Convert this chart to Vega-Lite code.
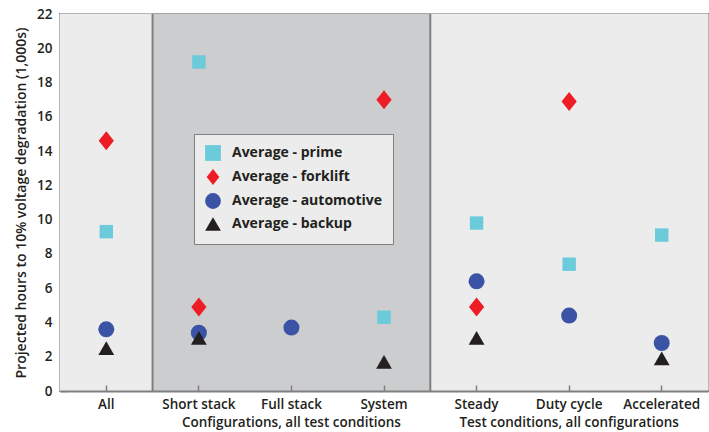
{
  "$schema": "https://vega.github.io/schema/vega-lite/v6.json",
  "width": 648,
  "height": 377,
  "autosize": "none",
  "padding": {"left": 60, "top": 14, "right": 1, "bottom": 41},
  "background": "white",
  "config": {
    "font": "Open Sans",
    "view": {"stroke": "#7f7f7f", "strokeWidth": 2},
    "axis": {
      "labelFont": "Open Sans", "labelFontWeight": 600, "labelFontSize": 13.5, "labelColor": "#231f20",
      "titleFont": "Open Sans", "titleFontWeight": 600, "titleFontSize": 14, "titleColor": "#231f20",
      "domainColor": "#7f7f7f", "domainWidth": 2, "tickColor": "#7f7f7f", "tickWidth": 1.5, "grid": false
    },
    "legend": {
      "title": null, "orient": "none", "legendX": 134, "legendY": 120,
      "fillColor": "#ebeceb", "strokeColor": "#7f7f7f", "padding": 10,
      "labelFont": "Open Sans", "labelFontWeight": 700, "labelFontSize": 14, "labelColor": "#231f20",
      "rowPadding": 2, "labelOffset": 10, "symbolOpacity": 1, "symbolSize": 250
    }
  },
  "datasets": {
    "bg": [
      {"cat": "All", "zone": "overall"},
      {"cat": "Short stack", "zone": "config"},
      {"cat": "Full stack", "zone": "config"},
      {"cat": "System", "zone": "config"},
      {"cat": "Steady", "zone": "test"},
      {"cat": "Duty cycle", "zone": "test"},
      {"cat": "Accelerated", "zone": "test"}
    ],
    "pts": [
      {"cat": "All", "series": "Average - prime", "value": 9.3},
      {"cat": "All", "series": "Average - forklift", "value": 14.6},
      {"cat": "All", "series": "Average - automotive", "value": 3.6},
      {"cat": "All", "series": "Average - backup", "value": 2.5},
      {"cat": "Short stack", "series": "Average - prime", "value": 19.2},
      {"cat": "Short stack", "series": "Average - forklift", "value": 4.9},
      {"cat": "Short stack", "series": "Average - automotive", "value": 3.4},
      {"cat": "Short stack", "series": "Average - backup", "value": 3.1},
      {"cat": "Full stack", "series": "Average - automotive", "value": 3.7},
      {"cat": "System", "series": "Average - prime", "value": 4.3},
      {"cat": "System", "series": "Average - forklift", "value": 17.0},
      {"cat": "System", "series": "Average - backup", "value": 1.7},
      {"cat": "Steady", "series": "Average - prime", "value": 9.8},
      {"cat": "Steady", "series": "Average - forklift", "value": 4.9},
      {"cat": "Steady", "series": "Average - automotive", "value": 6.4},
      {"cat": "Steady", "series": "Average - backup", "value": 3.1},
      {"cat": "Duty cycle", "series": "Average - prime", "value": 7.4},
      {"cat": "Duty cycle", "series": "Average - forklift", "value": 16.9},
      {"cat": "Duty cycle", "series": "Average - automotive", "value": 4.4},
      {"cat": "Accelerated", "series": "Average - prime", "value": 9.1},
      {"cat": "Accelerated", "series": "Average - automotive", "value": 2.8},
      {"cat": "Accelerated", "series": "Average - backup", "value": 1.9}
    ]
  },
  "layer": [
    {
      "data": {"name": "bg"},
      "mark": {"type": "rect", "strokeWidth": 1},
      "encoding": {
        "x": {
          "field": "cat", "type": "nominal",
          "sort": ["All", "Short stack", "Full stack", "System", "Steady", "Duty cycle", "Accelerated"],
          "scale": {"paddingInner": 0, "paddingOuter": 0},
          "axis": {
            "title": null, "labelAngle": 0, "tickSize": -6, "labelPadding": 12,
            "labelOverlap": false, "labelLimit": 0, "labelLineHeight": 18,
            "labelExpr": "datum.value == 'Full stack' ? ['Full stack', 'Configurations, all test conditions'] : datum.value == 'Duty cycle' ? ['Duty cycle', 'Test conditions, all configurations'] : datum.value"
          }
        },
        "fill": {"condition": {"test": "datum.zone == 'config'", "value": "#cccdcf"}, "value": "#ebeceb"},
        "stroke": {"condition": {"test": "datum.zone == 'config'", "value": "#cccdcf"}, "value": "#ebeceb"}
      }
    },
    {
      "data": {"name": "bg"},
      "transform": [{"filter": "datum.cat == 'Short stack' || datum.cat == 'Steady'"}],
      "mark": {"type": "rule", "color": "#7f7f7f", "strokeWidth": 2},
      "encoding": {
        "x": {
          "field": "cat", "type": "nominal", "bandPosition": 0,
          "sort": ["All", "Short stack", "Full stack", "System", "Steady", "Duty cycle", "Accelerated"]
        }
      }
    },
    {
      "data": {"name": "pts"},
      "mark": {"type": "point", "filled": true, "opacity": 1},
      "encoding": {
        "x": {
          "field": "cat", "type": "nominal",
          "sort": ["All", "Short stack", "Full stack", "System", "Steady", "Duty cycle", "Accelerated"]
        },
        "y": {
          "field": "value", "type": "quantitative",
          "scale": {"domain": [0, 22], "nice": false},
          "axis": {
            "title": "Projected hours to 10% voltage degradation (1,000s)",
            "values": [0, 2, 4, 6, 8, 10, 12, 14, 16, 18, 20, 22],
            "tickSize": -6, "labelPadding": 14, "titlePadding": 8
          }
        },
        "shape": {
          "field": "series", "type": "nominal",
          "scale": {
            "domain": ["Average - prime", "Average - forklift", "Average - automotive", "Average - backup"],
            "range": ["square", "M-0.8,0L0,-1L0.8,0L0,1Z", "circle", "triangle-up"]
          },
          "legend": {"title": null}
        },
        "color": {
          "field": "series", "type": "nominal",
          "scale": {
            "domain": ["Average - prime", "Average - forklift", "Average - automotive", "Average - backup"],
            "range": ["#6ccbdb", "#ee1c24", "#3a53a4", "#231f20"]
          },
          "legend": {"title": null}
        },
        "size": {
          "condition": [
            {"test": "datum.series == 'Average - prime'", "value": 180},
            {"test": "datum.series == 'Average - forklift'", "value": 361},
            {"test": "datum.series == 'Average - automotive'", "value": 256}
          ],
          "value": 250
        }
      }
    }
  ]
}
